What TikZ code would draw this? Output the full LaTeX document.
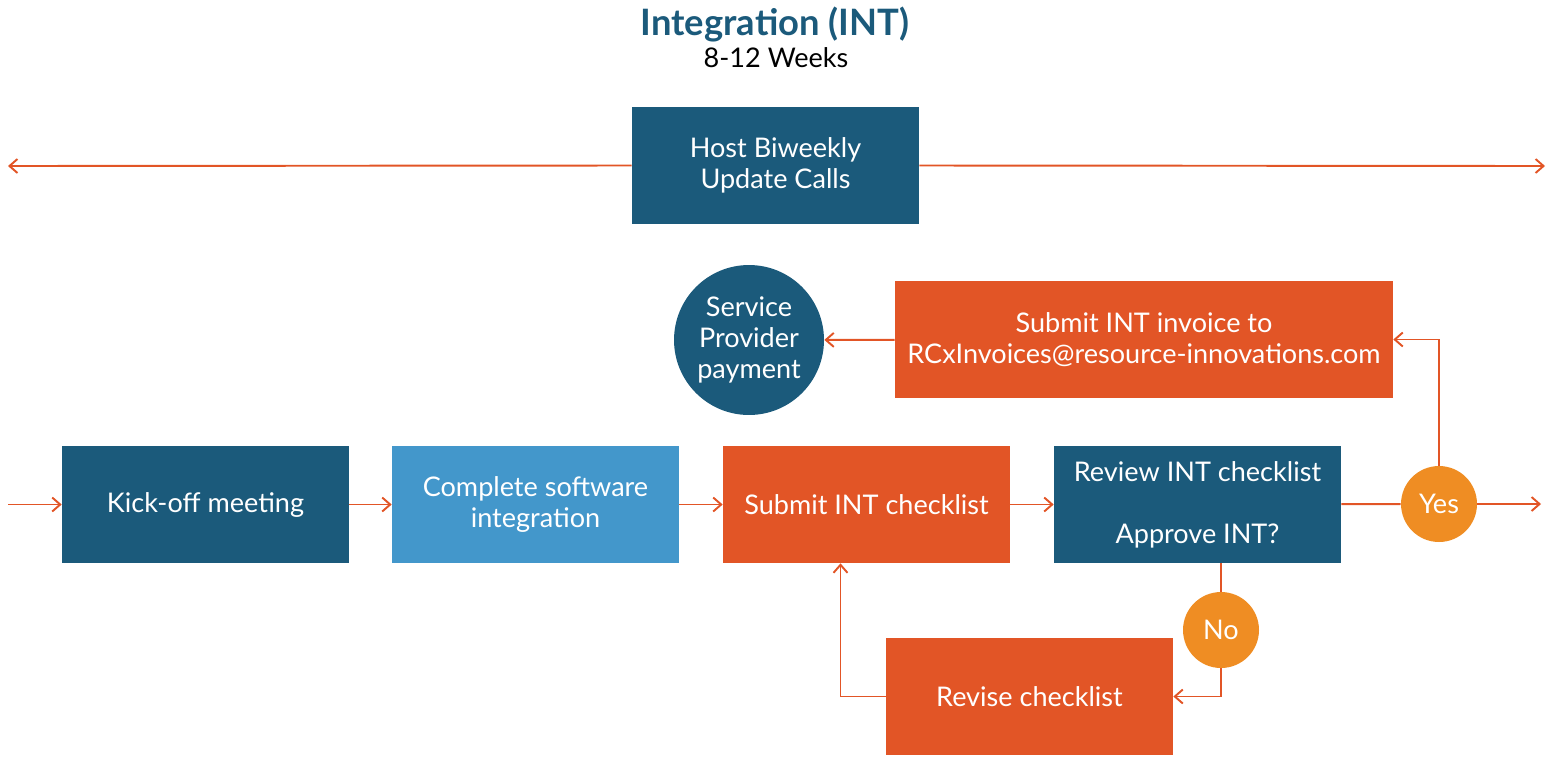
\documentclass[tikz,border=0pt]{standalone}
\usepackage{fontspec}
\setmainfont{Lato}
\usetikzlibrary{arrows.meta}

\definecolor{darkblue}{HTML}{1B5A7B}
\definecolor{lightblue}{HTML}{4397CB}
\definecolor{redorange}{HTML}{E25526}
\definecolor{amber}{HTML}{EF8D23}

\tikzset{
    box/.style={rectangle, minimum width=5.74cm, minimum height=2.34cm, inner sep=0pt,
        text=white, align=center, font=\fontsize{15.4}{17.6}\selectfont},
    disc/.style={circle, inner sep=0pt, text=white, align=center,
        font=\fontsize{15.4}{17.6}\selectfont},
    link/.style={draw=redorange, line width=1.1pt},
    flow/.style={link, -{Straight Barb[length=0.16cm, width=0.28cm]}}
}

\begin{document}
\begin{tikzpicture}[x=0.02cm, y=-0.02cm]
    \useasboundingbox (0,0) rectangle (1554,758);

    % title
    \node[text=darkblue, font=\fontsize{20.7}{22}\selectfont\bfseries] (title) at (775,25) {Integration (INT)};
    \node[font=\fontsize{15.4}{17.6}\selectfont] (weeks) at (776,58) {8-12 Weeks};

    % update calls
    \node[box, fill=darkblue] (calls) at (775.5,165.5) {Host Biweekly\\Update Calls};
    \coordinate (lfar) at (8,166);
    \coordinate (rfar) at (1545,166);
    \draw[flow] (calls.west) -- (lfar);
    \draw[flow] (calls.east) -- (rfar);

    % main row
    \node[box, fill=darkblue] (kickoff) at (205.5,504.5) {Kick-off meeting};
    \node[box, fill=lightblue] (software) at (535.5,504.5) {Complete software\\integration};
    \node[box, fill=redorange] (submit) at (866.5,504.5) {Submit INT checklist};
    \node[box, fill=darkblue] (review) at (1197.5,504.5) {Review INT checklist\\[17.6pt]Approve INT?};
    \node[disc, fill=amber, minimum size=1.52cm] (yes) at (1439,504) {Yes};
    \coordinate (start) at (8,504.5);
    \coordinate (finish) at (1541,504);

    % payment
    \node[box, fill=redorange, minimum width=9.96cm] (invoice) at (1144,339.5) {Submit INT invoice to\\RCxInvoices@resource-innovations.com};
    \node[disc, fill=darkblue, minimum size=3cm] (payment) at (749,340) {Service\\Provider\\payment};

    % revision loop
    \node[disc, fill=amber, minimum size=1.52cm] (no) at (1221,630) {No};
    \node[box, fill=redorange] (revise) at (1029.5,696.5) {Revise checklist};

    \draw[flow] (start) -- (kickoff);
    \draw[flow] (kickoff) -- (software);
    \draw[flow] (software) -- (submit);
    \draw[flow] (submit) -- (review);
    \draw[link] (review) -- (yes);
    \draw[flow] (yes) -- (finish);
    \draw[flow] (yes.north) |- (invoice.east);
    \draw[flow] (invoice) -- (payment);
    \draw[link] (no |- review.south) -- (no);
    \draw[flow] (no.south) |- (revise.east);
    \draw[flow] (revise.west) -| ([xshift=-0.52cm]submit.south);
\end{tikzpicture}
\end{document}
